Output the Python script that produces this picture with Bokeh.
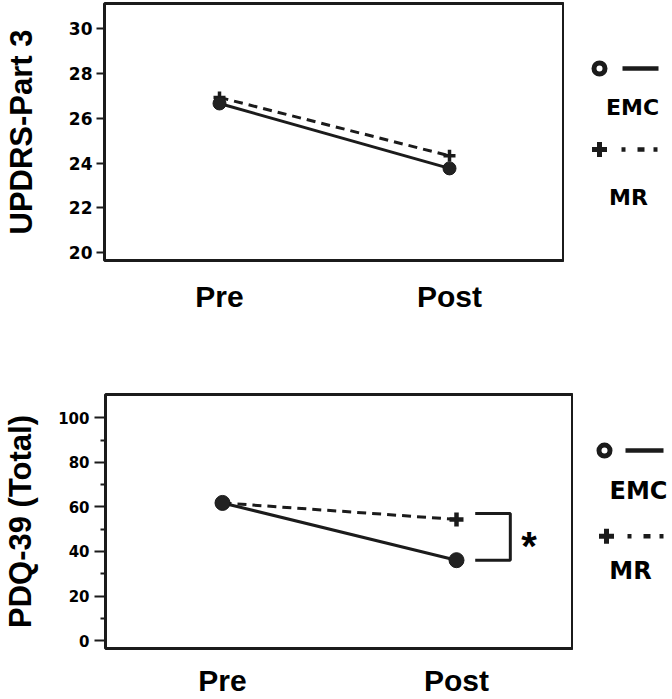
from bokeh.plotting import figure
from bokeh.layouts import column, row
from bokeh.models import Range1d, FixedTicker
from bokeh.core.properties import value
from bokeh.embed import file_html
from bokeh.resources import INLINE

# ---------------- data ----------------
phases = ["Pre", "Post"]
series = ["EMC", "MR"]
updrs_emc = [26.65, 23.76]
updrs_mr = [26.92, 24.32]
pdq_emc = [61.8, 36.1]
pdq_mr = [61.8, 54.4]
updrs_ticks = [20, 22, 24, 26, 28, 30]
pdq_ticks = [0, 20, 40, 60, 80, 100]
pdq_minor = [10, 30, 50, 70, 90]

xs = list(range(len(phases)))

INK = "#1b1b1b"
TITLE_FONT = "Liberation Sans"
TICK_FONT = "DejaVu Sans"
LEFT = 101  # common left border of both panels


def make_panel(width, height, bt, bb, yr, ticks, minor, ylabel,
               tick_size, cat_standoff, ylab_standoff, tick_out, tick_standoff):
    p = figure(width=width, height=height,
               x_range=Range1d(-0.5, 1.5), y_range=Range1d(*yr),
               output_backend="svg", toolbar_location=None,
               min_border_left=LEFT, min_border_right=0,
               min_border_top=bt, min_border_bottom=bb)
    p.grid.visible = False
    p.outline_line_color = INK
    p.outline_line_width = 3
    p.background_fill_color = "white"
    p.border_fill_color = "white"

    xa = p.xaxis[0]
    xa.ticker = FixedTicker(ticks=xs, minor_ticks=[])
    xa.major_label_overrides = {i: ph for i, ph in zip(xs, phases)}
    xa.major_tick_line_color = None
    xa.minor_tick_line_color = None
    xa.axis_line_color = None
    xa.major_tick_out = 0
    xa.major_tick_in = 0
    xa.major_label_standoff = cat_standoff
    xa.major_label_text_font = TITLE_FONT
    xa.major_label_text_font_size = "30px"
    xa.major_label_text_font_style = "bold"
    xa.major_label_text_color = "black"

    ya = p.yaxis[0]
    ya.ticker = FixedTicker(ticks=ticks, minor_ticks=minor)
    ya.axis_line_color = None
    ya.major_tick_out = tick_out
    ya.major_tick_in = 0
    ya.major_tick_line_width = 2
    ya.major_tick_line_color = INK
    ya.minor_tick_out = 5
    ya.minor_tick_in = 0
    ya.minor_tick_line_width = 2
    ya.minor_tick_line_color = INK
    ya.major_label_standoff = tick_standoff
    ya.major_label_text_font = TICK_FONT
    ya.major_label_text_font_size = tick_size
    ya.major_label_text_font_style = "bold"
    ya.major_label_text_color = "black"
    ya.axis_label = ylabel
    ya.axis_label_text_font = TITLE_FONT
    ya.axis_label_text_font_size = "31px"
    ya.axis_label_text_font_style = "bold"
    ya.axis_label_text_color = "black"
    ya.axis_label_standoff = ylab_standoff
    return p


def draw_series(p, emc, mr, circ_size, cross_size, cross_w):
    p.line(xs, mr, line_color=INK, line_width=3, line_dash="9 6")
    p.line(xs, emc, line_color=INK, line_width=3)
    p.scatter(xs, mr, marker="cross", size=cross_size, line_color=INK, line_width=cross_w)
    p.scatter(xs, emc, marker="circle", size=circ_size, fill_color="#222222",
              line_color=INK, line_width=1)


def make_legend(x0, x1, frame_top, frame_bottom, bt, bb, pos, font_size):
    # legend drawn in page pixel coordinates; borders match the panel so frames align
    height = bt + (frame_bottom - frame_top) + bb
    lg = figure(width=x1 - x0, height=height,
                x_range=Range1d(x0, x1), y_range=Range1d(frame_bottom, frame_top),
                x_axis_type=None, y_axis_type=None,
                output_backend="svg", toolbar_location=None,
                min_border_left=0, min_border_right=0,
                min_border_top=bt, min_border_bottom=bb,
                outline_line_color=None)
    lg.grid.visible = False
    lg.background_fill_color = "white"
    lg.border_fill_color = "white"
    (cx, cy), (l0, l1), (tx, ty), (px, py), (d0, d1), (mx, my) = pos
    lg.scatter([cx], [cy], marker="circle", size=11, fill_color="white",
               line_color=INK, line_width=5)
    lg.line([l0, l1], [cy, cy], line_color=INK, line_width=4.5)
    lg.scatter([px], [py], marker="cross", size=15, line_color=INK, line_width=5)
    lg.line([d0, d1], [py, py], line_color=INK, line_width=4.5, line_dash="4 12 7 9")
    lg.text([tx, mx], [ty, my], text=series, text_font=value(TICK_FONT),
            text_font_style="bold", text_font_size=font_size, text_color="black",
            text_align="center", text_baseline="alphabetic")
    return lg


# ---------------- top panel ----------------
# frame: x 101..564, y 3..260 ; figure height 340
p1 = make_panel(564, 340, 3, 80, (19.66, 31.10), updrs_ticks, [],
                "UPDRS-Part 3", "17px", 19, 27, 8, 4)
draw_series(p1, updrs_emc, updrs_mr, 13, 12, 3.5)
leg1 = make_legend(564, 672, 3, 260, 3, 80,
                   [(599, 68), (622, 658), (632, 107), (599, 149), (621, 657), (628, 197)],
                   "22px")

# ---------------- bottom panel ----------------
# frame: x 101..573, y 394..652 ; figure height 359
p2 = make_panel(573, 359, 54, 47, (-3.54, 110.47), pdq_ticks, pdq_minor,
                "PDQ-39 (Total)", "15px", 15, 17, 11, 5)
draw_series(p2, pdq_emc, pdq_mr, 15, 14, 4.5)

# significance bracket between the two Post values
post = xs[1]
b_top = pdq_mr[1] + 2.6
b_bot = pdq_emc[1]
p2.line([post + 0.08, post + 0.23, post + 0.23, post + 0.08],
        [b_top, b_top, b_bot, b_bot], line_color=INK, line_width=3)
p2.text([post + 0.31], [(b_top + b_bot) / 2], text=["*"], text_font=value(TITLE_FONT),
        text_font_style="bold", text_font_size="40px", text_color="black",
        text_align="center", text_baseline="middle", y_offset=9)

leg2 = make_legend(573, 672, 394, 652, 54, 47,
                   [(604, 451), (625, 663), (638, 492), (606, 538), (627, 663), (630, 573)],
                   "24px")

layout = column(row(p1, leg1), row(p2, leg2))

open("out.html", "w").write(file_html(layout, INLINE))
